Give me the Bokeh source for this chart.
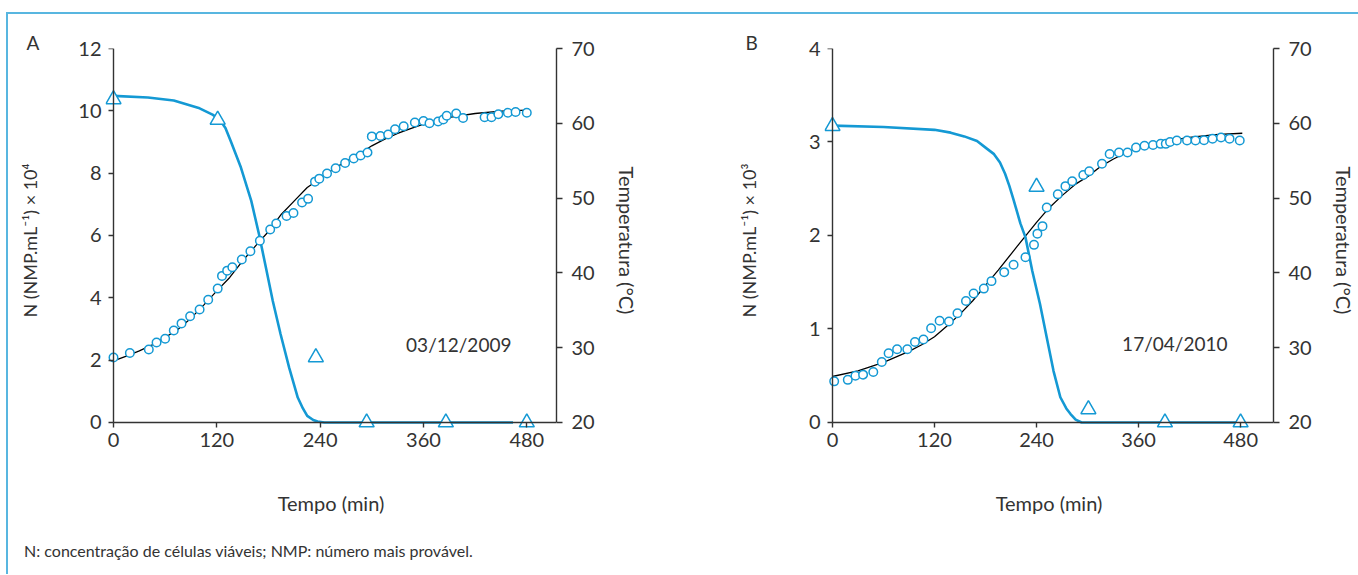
from bokeh.plotting import figure
from bokeh.models import LinearAxis, Range1d, FixedTicker, Title, Div, Spacer
from bokeh.layouts import row, column
from bokeh.embed import file_html
from bokeh.resources import INLINE
from bokeh.core.properties import value

# ---------------- data: panel A (03/12/2009) ----------------
a_temp_t = [0, 19, 41, 50, 60, 70, 79, 89, 100, 110, 121, 126, 132, 138, 149, 159, 170, 182, 189,
            201, 209, 219, 226, 234, 239, 248, 258, 269, 279, 287, 295, 300, 310, 319, 327, 337,
            350, 360, 367, 377, 383, 387, 398, 406, 431, 439, 447, 458, 467, 480]
a_temp = [28.7, 29.3, 29.75, 30.7, 31.2, 32.3, 33.25, 34.2, 35.1, 36.4, 37.9, 39.6, 40.3, 40.75,
          41.8, 42.9, 44.3, 45.8, 46.6, 47.6, 48.0, 49.4, 49.9, 52.2, 52.6, 53.3, 54.0, 54.7, 55.3,
          55.7, 56.1, 58.25, 58.3, 58.5, 59.2, 59.6, 60.1, 60.3, 60.0, 60.25, 60.5, 61.0, 61.3,
          60.7, 60.8, 60.8, 61.2, 61.4, 61.5, 61.4]
a_fit_t = [0, 15, 30, 45, 60, 75, 90, 105, 120, 135, 150, 165, 180, 195, 210, 225, 240, 255, 270,
           285, 300, 315, 330, 345, 360, 375, 390, 420, 450, 480]
a_fit_temp = [28.24, 28.87, 29.58, 30.38, 31.36, 32.48, 33.95, 35.73, 37.60, 39.39, 41.61, 43.62,
              45.53, 47.85, 49.63, 51.42, 52.62, 53.87, 54.89, 55.87, 56.99, 57.88, 58.64, 59.30,
              59.88, 60.37, 60.78, 61.31, 61.62, 61.76]
a_n_t = [0, 121, 235, 294, 386, 480]
a_n = [10.37, 9.71, 2.09, 0, 0, 0]
a_nfit_t = [0, 40, 70, 100, 115, 123, 130, 136, 148, 160, 169, 177, 185, 194, 204, 214, 220, 225,
            232, 237, 245, 464]
a_nfit = [10.48, 10.43, 10.33, 10.08, 9.88, 9.73, 9.45, 9.04, 8.18, 7.11, 6.04, 4.97, 3.90, 2.84,
          1.76, 0.80, 0.45, 0.21, 0.08, 0.03, 0, 0]

# ---------------- data: panel B (17/04/2010) ----------------
b_temp_t = [2, 18, 27, 36, 48, 58, 66, 76, 88, 97, 107, 116, 126, 137, 147, 157, 166, 178, 187,
            202, 213, 227, 237, 241, 247, 252, 265, 274, 282, 295, 302, 317, 326, 337, 347, 357,
            367, 377, 386, 392, 397, 405, 417, 427, 437, 447, 457, 467, 479]
b_temp = [25.5, 25.7, 26.25, 26.4, 26.75, 28.1, 29.25, 29.8, 29.8, 30.75, 31.1, 32.6, 33.6, 33.5,
          34.6, 36.25, 37.25, 37.9, 38.9, 40.1, 41.1, 42.1, 43.75, 45.25, 46.25, 48.75, 50.5, 51.6,
          52.25, 53.1, 53.6, 54.6, 55.9, 56.1, 56.1, 56.75, 57.0, 57.1, 57.25, 57.25, 57.5, 57.7,
          57.7, 57.7, 57.75, 57.95, 58.1, 57.95, 57.7]
b_fit_t = [0, 30, 60, 90, 105, 120, 135, 150, 165, 180, 195, 210, 225, 240, 255, 270, 285, 300,
           315, 330, 345, 360, 390, 420, 450, 482]
b_fit_temp = [26.15, 26.91, 28.03, 29.50, 30.39, 31.46, 32.93, 34.49, 36.28, 38.33, 40.38, 42.52,
              44.66, 46.76, 48.72, 50.33, 51.80, 52.87, 54.20, 55.19, 56.08, 56.70, 57.59, 58.13,
              58.49, 58.67]
b_n_t = [0, 240, 301, 391, 480]
b_n = [3.17, 2.52, 0.14, 0, 0]
b_nfit_t = [0, 60, 120, 139, 155, 170, 180, 190, 197, 203, 208, 213, 221, 227, 235, 244, 252, 260,
            268, 275, 280, 286, 293, 480]
b_nfit = [3.175, 3.16, 3.13, 3.10, 3.06, 3.01, 2.94, 2.87, 2.78, 2.66, 2.53, 2.38, 2.13, 1.98,
          1.62, 1.27, 0.91, 0.55, 0.27, 0.15, 0.09, 0.03, 0, 0]

x_ticks = [0, 120, 240, 360, 480]
temp_ticks = [20, 30, 40, 50, 60, 70]
footnote = "N: concentração de células viáveis; NMP: número mais provável."

BLUE = "#1499d4"
FRAME = "#58b6e0"
AX = "#333333"
FONT = "Lato"
FIG_H = 525


def base_axis(ax, ticks):
    ax.ticker = FixedTicker(ticks=ticks)
    ax.axis_line_color = AX
    ax.axis_line_width = 1.4
    ax.major_tick_line_color = AX
    ax.major_tick_line_width = 1.4
    ax.major_tick_in = 0
    ax.major_tick_out = 5
    ax.minor_tick_line_color = None
    ax.major_label_text_font = FONT
    ax.major_label_text_font_size = "20px"
    ax.major_label_text_color = AX
    ax.axis_label_text_font = FONT
    ax.axis_label_text_font_size = "20px"
    ax.axis_label_text_font_style = "normal"
    ax.axis_label_text_color = AX


def labels_only(ax):
    ax.axis_line_color = None
    ax.major_tick_line_color = None
    ax.major_tick_out = 0


def rule_only(ax):
    ax.major_label_text_color = None
    ax.major_label_text_font_size = "0px"
    ax.major_label_standoff = 0


def panel(width, mbl, mbr, xstart, xend, ystart, yend, left_ticks, ylabel, left_standoff,
          ft, ftemp, tt, temps, nft, nf, nt, nv, letter, letter_offset,
          date, date_x, date_y):
    p = figure(width=width, height=FIG_H, output_backend="svg", toolbar_location=None,
               x_range=Range1d(xstart, xend), y_range=Range1d(ystart, yend),
               min_border_left=mbl, min_border_right=mbr, min_border_top=34,
               min_border_bottom=FIG_H - 34 - 384)
    p.extra_y_ranges = {"temp": Range1d(18.663, 70)}
    p.grid.visible = False
    p.outline_line_color = None
    p.background_fill_color = "white"
    p.border_fill_color = "white"

    # x axis: labels at frame edge, rule + ticks at y = 0
    xa = p.xaxis[0]
    base_axis(xa, x_ticks)
    labels_only(xa)
    xa.major_label_standoff = 0

    # left axis: labels at frame edge, rule + ticks at x = 0
    ya = p.yaxis[0]
    base_axis(ya, left_ticks)
    labels_only(ya)
    ya.major_label_standoff = 4
    ya.axis_label = ylabel
    ya.axis_label_text_font_size = "18px"
    ya.axis_label_standoff = left_standoff

    ra = LinearAxis(y_range_name="temp", bounds=(20, 70))
    base_axis(ra, temp_ticks)
    ra.major_tick_out = 6
    ra.major_label_standoff = 9
    ra.axis_label = "Temperatura (°C)"
    ra.axis_label_standoff = 17
    p.add_layout(ra, "right")

    ta = LinearAxis(bounds=(0, 480), ticker=FixedTicker(ticks=[]))
    ta.axis_line_color = None
    ta.major_tick_line_color = None
    ta.minor_tick_line_color = None
    ta.major_tick_out = 0
    ta.major_tick_in = 0
    ta.major_label_standoff = 0
    ta.axis_label = "Tempo (min)"
    ta.axis_label_standoff = 41
    ta.axis_label_text_font = FONT
    ta.axis_label_text_font_size = "20px"
    ta.axis_label_text_font_style = "normal"
    ta.axis_label_text_color = AX
    p.add_layout(ta, "below")

    xr = LinearAxis(fixed_location=0, bounds=(0, xend))
    base_axis(xr, x_ticks)
    rule_only(xr)
    p.add_layout(xr, "below")

    yr = LinearAxis(fixed_location=0, bounds=(0, yend))
    base_axis(yr, left_ticks)
    rule_only(yr)
    p.add_layout(yr, "left")

    p.add_layout(Title(text=letter, align="left", offset=letter_offset, standoff=-11,
                       text_font=FONT, text_font_size="19px", text_font_style="normal",
                       text_color=AX), "above")

    p.line(ft, ftemp, y_range_name="temp", line_color="black", line_width=1.3)
    p.line(nft, nf, line_color=BLUE, line_width=2.6)
    p.scatter(tt, temps, y_range_name="temp", marker="circle", size=8.5,
              line_color=BLUE, line_width=1.5, fill_color="white")
    p.scatter(nt, nv, marker="triangle", size=15, line_color=BLUE, line_width=1.5,
              fill_color="white")

    p.text(x=[date_x], y=[date_y], text=[date], text_font=value(FONT), text_font_size="19px",
           text_color=AX, text_align="center", text_baseline="middle")
    return p


pA = panel(712, 97, 164, -9.29, 514.5, -0.3209, 12, [0, 2, 4, 6, 8, 10, 12],
           "N (NMP.mL⁻¹) × 10⁴", 34,
           a_fit_t, a_fit_temp, a_temp_t, a_temp, a_nfit_t, a_nfit, a_n_t, a_n,
           "A", -79, "03/12/2009", 401, 2.5)

pB = panel(638, 104, 84, -9.39, 518.7, -0.107, 4, [0, 1, 2, 3, 4],
           "N (NMP.mL⁻¹) × 10³", 46,
           b_fit_t, b_fit_temp, b_temp_t, b_temp, b_nfit_t, b_nfit, b_n_t, b_n,
           "B", -79, "17/04/2010", 402.6, 0.845)

foot = Div(text=('<div style="font-family:Lato;font-size:16px;color:#333333;line-height:24px;'
                 'padding-left:16px;white-space:nowrap;">' + footnote + '</div>'),
           width=700, height=24, margin=(0, 0, 0, 0))

top_gap = Spacer(width=1358, height=12)
top_line = Div(text="", width=1352, height=2, margin=(0, 0, 0, 6),
               styles={"background-color": FRAME})
left_gap = Spacer(width=6, height=10)
left_line = Div(text="", width=2, height=560, margin=(0, 0, 0, 0),
                styles={"background-color": FRAME})

body = column(row(pA, pB, spacing=0), foot, spacing=0)
layout = column(top_gap, top_line, row(left_gap, left_line, body, spacing=0), spacing=0)

open("out.html", "w").write(file_html(layout, INLINE))
